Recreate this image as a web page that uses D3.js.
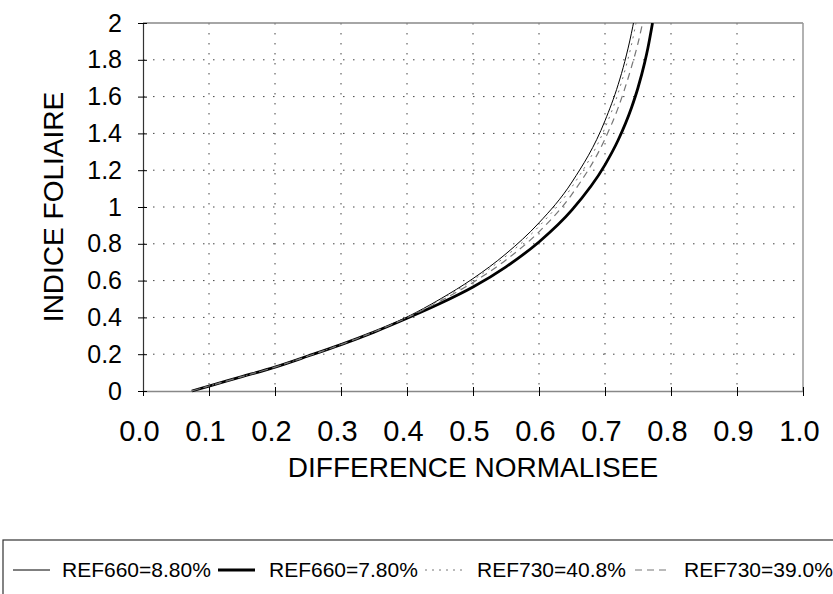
<!DOCTYPE html>
<html><head><meta charset="utf-8">
<script src="https://cdn.jsdelivr.net/npm/d3@7"></script>
<style>body{margin:0;background:#fff}svg{display:block}text{font-family:"Liberation Sans",Arial,sans-serif;fill:#000}</style>
</head><body>
<svg id="c" width="833" height="594"></svg>
<script>
const xTicks = [0,0.1,0.2,0.3,0.4,0.5,0.6,0.7,0.8,0.9,1.0];
const xTickLabels = ["0.0","0.1","0.2","0.3","0.4","0.5","0.6","0.7","0.8","0.9","1.0"];
const yTicks = [0,0.2,0.4,0.6,0.8,1,1.2,1.4,1.6,1.8,2];
const yTickLabels = ["0","0.2","0.4","0.6","0.8","1","1.2","1.4","1.6","1.8","2"];
const seriesNames = ["REF660=8.80%","REF660=7.80%","REF730=40.8%","REF730=39.0%"];
// [difference normalisée, indice foliaire]
const ref660_880 = [[0.074,0],[0.1,0.027],[0.15,0.078],[0.2,0.13],[0.25,0.19],[0.3,0.253],[0.35,0.322],[0.4,0.402],[0.45,0.499],[0.5,0.611],[0.55,0.746],[0.6,0.914],[0.65,1.136],[0.7,1.469],[0.72,1.666],[0.73,1.791],[0.74,1.944],[0.744,2.016]];
const ref660_780 = [[0.074,0],[0.1,0.027],[0.15,0.078],[0.2,0.13],[0.25,0.19],[0.3,0.252],[0.35,0.32],[0.4,0.395],[0.45,0.475],[0.5,0.565],[0.55,0.675],[0.6,0.81],[0.65,0.984],[0.7,1.229],[0.72,1.364],[0.74,1.538],[0.75,1.648],[0.76,1.783],[0.765,1.864],[0.772,2.0]];
const ref730_408 = [[0.074,0],[0.1,0.027],[0.15,0.078],[0.2,0.13],[0.25,0.19],[0.3,0.253],[0.35,0.322],[0.4,0.40],[0.45,0.495],[0.5,0.603],[0.55,0.733],[0.6,0.895],[0.65,1.11],[0.7,1.43],[0.72,1.62],[0.73,1.74],[0.74,1.88],[0.747,2.0]];
const ref730_390 = [[0.074,0],[0.1,0.027],[0.15,0.078],[0.2,0.13],[0.25,0.19],[0.3,0.252],[0.35,0.321],[0.4,0.398],[0.45,0.488],[0.5,0.59],[0.55,0.712],[0.6,0.865],[0.65,1.07],[0.7,1.37],[0.72,1.54],[0.74,1.76],[0.75,1.89],[0.757,2.0]];

const svg = d3.select("#c");
const L=143,R=803,T=23,B=391;
const x = d3.scaleLinear().domain([0,1]).range([L,R]);
const y = d3.scaleLinear().domain([0,2]).range([B,T]);

// grid
const g = svg.append("g");
g.selectAll(".vg").data(xTicks.slice(1,-1)).enter().append("line")
 .attr("x1",d=>x(d)).attr("x2",d=>x(d)).attr("y1",T).attr("y2",B)
 .attr("stroke","#444").attr("stroke-width",1).attr("stroke-dasharray","1.5,8.5");
g.selectAll(".hg").data(yTicks.slice(1,-1)).enter().append("line")
 .attr("y1",d=>y(d)).attr("y2",d=>y(d)).attr("x1",L).attr("x2",R)
 .attr("stroke","#444").attr("stroke-width",1).attr("stroke-dasharray","1.5,8.5");
// border top/right
svg.append("line").attr("x1",L).attr("x2",R).attr("y1",T).attr("y2",T).attr("stroke","#888").attr("stroke-width",1.5);
svg.append("line").attr("x1",R).attr("x2",R).attr("y1",T).attr("y2",B).attr("stroke","#999").attr("stroke-width",1.5);

// axes
const xAxis = d3.axisBottom(x).tickValues(xTicks).tickFormat((d,i)=>xTickLabels[i]).tickSizeInner(5).tickSizeOuter(0).tickPadding(24);
const gx = svg.append("g").attr("transform",`translate(0,${B})`).call(xAxis);
gx.select(".domain").attr("stroke","#888").attr("stroke-width",1.5);
gx.selectAll(".tick line").attr("stroke","#000").attr("y1",-4);
gx.selectAll(".tick text").attr("font-size",29).attr("dx",-4).attr("font-family","Liberation Sans, Arial, sans-serif");

const yAxis = d3.axisLeft(y).tickValues(yTicks).tickFormat((d,i)=>yTickLabels[i]).tickSizeInner(5).tickSizeOuter(0).tickPadding(16);
const gy = svg.append("g").attr("transform",`translate(${L},0)`).call(yAxis);
gy.select(".domain").attr("stroke","#333").attr("stroke-width",1.2);
gy.selectAll(".tick line").attr("stroke","#000").attr("x1",4);
gy.selectAll(".tick text").attr("font-size",25).attr("font-family","Liberation Sans, Arial, sans-serif");

svg.append("text").attr("x",(L+R)/2).attr("y",477).attr("text-anchor","middle").attr("font-size",28).text("DIFFERENCE NORMALISEE");
svg.append("text").attr("transform",`translate(63,${(T+B)/2}) rotate(-90)`).attr("text-anchor","middle").attr("font-size",28).text("INDICE FOLIAIRE");

// clip
svg.append("clipPath").attr("id","cp").append("rect").attr("x",L).attr("y",T).attr("width",R-L).attr("height",B-T+2);
const line = d3.line().x(d=>x(d[0])).y(d=>y(d[1])).curve(d3.curveMonotoneX);
const styles = [
 {data:ref660_880, stroke:"#000", w:1, dash:null},
 {data:ref660_780, stroke:"#000", w:2.8, dash:null},
 {data:ref730_408, stroke:"#777", w:1, dash:"2,5"},
 {data:ref730_390, stroke:"#777", w:1.2, dash:"7,5"}
];
const cg = svg.append("g").attr("clip-path","url(#cp)");
styles.forEach(s=>{
  cg.append("path").datum(s.data).attr("d",line).attr("fill","none")
   .attr("stroke",s.stroke).attr("stroke-width",s.w).attr("stroke-dasharray",s.dash);
});

// legend
svg.append("rect").attr("x",3).attr("y",540).attr("width",840).attr("height",70).attr("fill","none").attr("stroke","#333").attr("stroke-width",1.2);
const legX = [13,218,425,635];
const lg = svg.append("g");
styles.forEach((s,i)=>{
  const lx = legX[i];
  lg.append("line").attr("x1",lx).attr("x2",lx+(i===3?32:37)).attr("y1",570).attr("y2",570)
    .attr("stroke",s.stroke).attr("stroke-width",s.w).attr("stroke-dasharray",s.dash);
  lg.append("text").attr("x",[62,269,477,684][i]).attr("y",577).attr("font-size",21).text(seriesNames[i]);
});
</script>
</body></html>
